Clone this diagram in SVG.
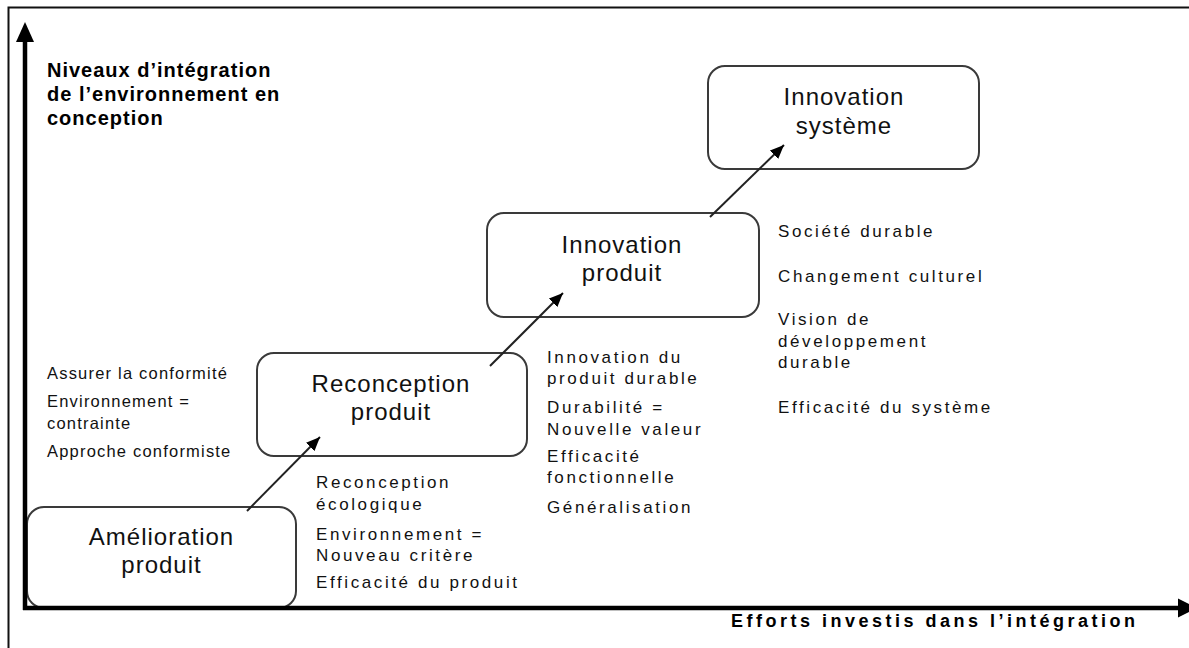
<svg xmlns="http://www.w3.org/2000/svg" width="1189" height="648" viewBox="0 0 1189 648">
<defs>
<style>
.box{fill:#fff;stroke:#3a3a3a;stroke-width:2}
.lbl{font-family:"Liberation Sans",Arial,sans-serif;font-size:24px;letter-spacing:1px;fill:#111;text-anchor:middle}
.lst{font-family:"Liberation Sans",Arial,sans-serif;font-size:17px;letter-spacing:2.6px;fill:#111}
.lst2{font-family:"Liberation Sans",Arial,sans-serif;font-size:16.5px;letter-spacing:1.2px;fill:#111}
.ttl{font-family:"Liberation Sans",Arial,sans-serif;font-size:20px;font-weight:bold;letter-spacing:1px;fill:#000}
.ax{font-family:"Liberation Sans",Arial,sans-serif;font-size:18px;font-weight:bold;letter-spacing:3.5px;fill:#000}
.con{stroke:#222;stroke-width:2;fill:none}
</style>
<marker id="ah" viewBox="0 0 14 12" refX="14" refY="6" markerWidth="14" markerHeight="12" markerUnits="userSpaceOnUse" orient="auto">
<path d="M0,0 L14,6 L0,12 z" fill="#000"/>
</marker>
</defs>
<rect width="1189" height="648" fill="#fff"/>
<!-- outer frame -->
<path d="M8.5,648 L8.5,7.5 L1189,7.5" fill="none" stroke="#111" stroke-width="2"/>

<g id="node-amelioration">
<rect class="box" x="27" y="507" width="269" height="101" rx="17"/>
<text class="lbl" x="161.5" y="545">Amélioration</text>
<text class="lbl" x="161.5" y="573">produit</text>
</g>
<g id="node-reconception">
<rect class="box" x="257" y="353" width="270" height="103" rx="17"/>
<text class="lbl" x="391" y="392">Reconception</text>
<text class="lbl" x="391" y="420">produit</text>
</g>
<g id="node-innovation-produit">
<rect class="box" x="487" y="213" width="272" height="104" rx="17"/>
<text class="lbl" x="622" y="253">Innovation</text>
<text class="lbl" x="622" y="281">produit</text>
</g>
<g id="node-innovation-systeme">
<rect class="box" x="708" y="66" width="271" height="103" rx="17"/>
<text class="lbl" x="844" y="105">Innovation</text>
<text class="lbl" x="844" y="134">système</text>
</g>

<g id="axes">
<line x1="25" y1="610" x2="25" y2="40" stroke="#000" stroke-width="4.5"/>
<polygon points="25,22 16,42 34,42" fill="#000"/>
<line x1="23" y1="608" x2="1179" y2="608" stroke="#000" stroke-width="4.5"/>
<polygon points="1197,608 1178,598.5 1178,617.5" fill="#000"/>
</g>

<g id="connectors">
<line class="con" x1="247" y1="511" x2="320" y2="437" marker-end="url(#ah)"/>
<line class="con" x1="490" y1="366" x2="563" y2="293" marker-end="url(#ah)"/>
<line class="con" x1="710" y1="217" x2="784" y2="145" marker-end="url(#ah)"/>
</g>

<g id="axis-titles">
<text class="ttl" x="47" y="77">Niveaux d’intégration</text>
<text class="ttl" x="47" y="101">de l’environnement en</text>
<text class="ttl" x="47" y="125">conception</text>
<text class="ax" x="731" y="627">Efforts investis dans l’intégration</text>
</g>

<g id="notes-amelioration">
<text class="lst2" x="47" y="379">Assurer la conformité</text>
<text class="lst2" x="47" y="407">Environnement =</text>
<text class="lst2" x="47" y="429">contrainte</text>
<text class="lst2" x="47" y="457">Approche conformiste</text>
</g>
<g id="notes-reconception">
<text class="lst" x="316" y="488">Reconception</text>
<text class="lst" x="316" y="510">écologique</text>
<text class="lst" x="316" y="540">Environnement =</text>
<text class="lst" x="316" y="561">Nouveau critère</text>
<text class="lst" x="316" y="588">Efficacité du produit</text>
</g>
<g id="notes-innovation-produit">
<text class="lst" x="547" y="363">Innovation du</text>
<text class="lst" x="547" y="384">produit durable</text>
<text class="lst" x="547" y="413">Durabilité =</text>
<text class="lst" x="547" y="435">Nouvelle valeur</text>
<text class="lst" x="547" y="462">Efficacité</text>
<text class="lst" x="547" y="483">fonctionnelle</text>
<text class="lst" x="547" y="513">Généralisation</text>
</g>
<g id="notes-innovation-systeme">
<text class="lst" x="778" y="237">Société durable</text>
<text class="lst" x="778" y="282">Changement culturel</text>
<text class="lst" x="778" y="325">Vision de</text>
<text class="lst" x="778" y="347">développement</text>
<text class="lst" x="778" y="368">durable</text>
<text class="lst" x="778" y="413">Efficacité du système</text>
</g>
</svg>
